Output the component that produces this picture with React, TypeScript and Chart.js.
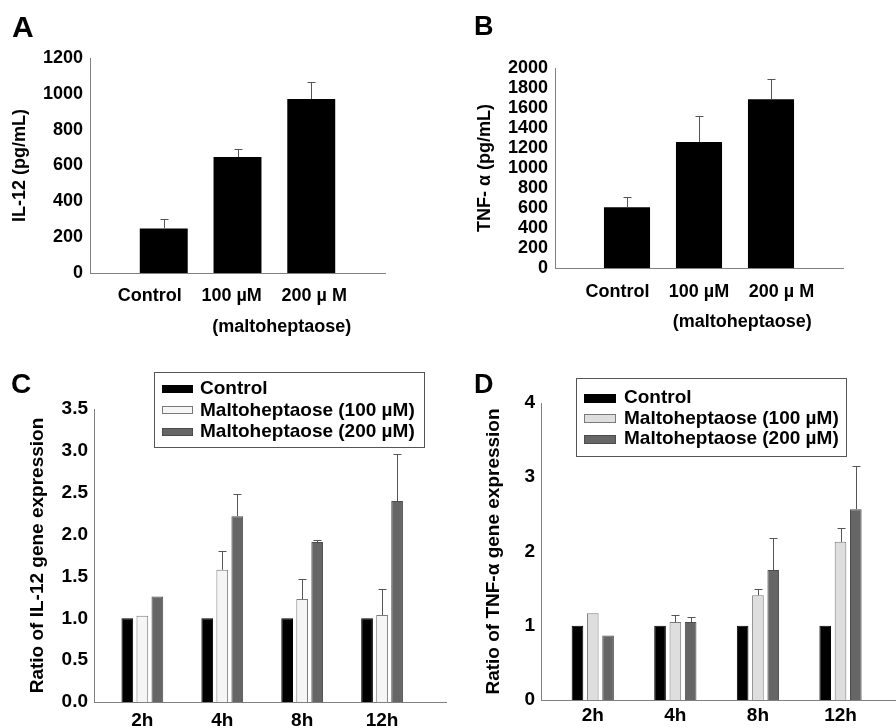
import React, { useEffect, useRef } from 'react';
import { Chart, registerables } from 'chart.js';

Chart.register(...registerables);

const FONT = '"Liberation Sans", Arial, Helvetica, sans-serif';
const AXIS_COLOR = '#808080';
const ERR_COLOR = '#555555';

// ---------- Panel A / B data ----------
const doseCategories = ['Control', '100 µM', '200 µ M'];
const doseGroupLabel = '(maltoheptaose)';
const il12Protein = [249, 647, 971];
const il12ProteinErr = [52, 43, 97];
const tnfProtein = [607, 1260, 1687];
const tnfProteinErr = [106, 260, 206];

// ---------- Panel C / D data ----------
const timeCategories = ['2h', '4h', '8h', '12h'];
const seriesNames = ['Control', 'Maltoheptaose (100 µM)', 'Maltoheptaose (200 µM)'];
const il12Control = [1, 1, 1, 1];
const il12Malto100 = [1.03, 1.58, 1.23, 1.04];
const il12Malto100Err = [0, 0.22, 0.24, 0.31];
const il12Malto200 = [1.26, 2.22, 1.91, 2.4];
const il12Malto200Err = [0, 0.27, 0.02, 0.56];
const tnfControl = [1, 1, 1, 1];
const tnfMalto100 = [1.17, 1.05, 1.41, 2.13];
const tnfMalto100Err = [0, 0.1, 0.09, 0.19];
const tnfMalto200 = [0.87, 1.05, 1.75, 2.57];
const tnfMalto200Err = [0, 0.07, 0.43, 0.58];

type Series = { name: string; values: number[]; errors?: number[]; fill: string; stroke: string; strokeWidth: number };
type Spec = {
  x: number; y: number; w: number; h: number;
  area: { left: number; top: number; right: number; bottom: number };
  letter: string; letterSize: number; letterX: number; letterY: number;
  categories: string[]; labelAt?: number[]; series: Series[];
  xMin: number; xMax: number; catPct: number; barPct: number;
  yMax: number; yStep: number; yFormat: (v: number) => string;
  yTitle: string; yTitlePad: number; yPad: number; xPad: number; fontSize: number;
  groupLabel?: { text: string; at: number; dy: number };
  legend?: { x: number; y: number; w: number; h: number; swX: number; swW: number; swH: number; textX: number; rows: number[] };
};

const errorBarPlugin = {
  id: 'errorBars',
  afterDatasetsDraw(chart: any) {
    const ctx = chart.ctx;
    const yScale = chart.scales.y;
    ctx.save();
    ctx.strokeStyle = ERR_COLOR;
    ctx.lineWidth = 1;
    chart.data.datasets.forEach((ds: any, i: number) => {
      const errs: number[] | undefined = ds.errors;
      if (!errs) return;
      const meta = chart.getDatasetMeta(i);
      meta.data.forEach((el: any, j: number) => {
        const e = errs[j];
        if (!e) return;
        const v = ds.data[j].y;
        const top = Math.round(yScale.getPixelForValue(v + e)) + 0.5;
        const x = Math.round(el.x) + 0.5;
        ctx.beginPath();
        ctx.moveTo(x, el.y);
        ctx.lineTo(x, top);
        ctx.moveTo(x - 4, top);
        ctx.lineTo(x + 4, top);
        ctx.stroke();
      });
    });
    ctx.restore();
  },
};

function makeAnnotationPlugin(s: Spec) {
  return {
    id: 'annotations',
    afterDraw(chart: any) {
      const ctx = chart.ctx;
      ctx.save();
      ctx.fillStyle = '#000';
      ctx.textBaseline = 'alphabetic';
      ctx.textAlign = 'left';
      ctx.font = `bold ${s.letterSize}px ${FONT}`;
      ctx.fillText(s.letter, s.letterX, s.letterY);
      if (s.groupLabel) {
        const xs = chart.scales.x;
        ctx.font = `bold ${s.fontSize}px ${FONT}`;
        ctx.textAlign = 'center';
        ctx.textBaseline = 'middle';
        ctx.fillText(s.groupLabel.text, xs.getPixelForValue(s.groupLabel.at), chart.chartArea.bottom + s.groupLabel.dy);
      }
      if (s.legend) {
        const L = s.legend;
        ctx.fillStyle = '#fff';
        ctx.fillRect(L.x, L.y, L.w, L.h);
        ctx.strokeStyle = '#555';
        ctx.lineWidth = 1;
        ctx.strokeRect(L.x + 0.5, L.y + 0.5, L.w, L.h);
        ctx.font = `bold ${s.fontSize}px ${FONT}`;
        ctx.textAlign = 'left';
        ctx.textBaseline = 'middle';
        chart.data.datasets.forEach((ds: any, i: number) => {
          const cy = L.rows[i];
          const top = Math.round(cy - L.swH / 2);
          ctx.fillStyle = ds.backgroundColor;
          ctx.fillRect(L.swX, top, L.swW, L.swH);
          ctx.strokeStyle = ds.borderColor;
          ctx.strokeRect(L.swX + 0.5, top + 0.5, L.swW - 1, L.swH - 1);
          ctx.fillStyle = '#000';
          ctx.fillText(ds.label, L.textX, cy);
        });
      }
      ctx.restore();
    },
  };
}

function buildConfig(s: Spec): any {
  const font = { family: FONT, size: s.fontSize, weight: 'bold' as const };
  const tickValues = s.labelAt ?? s.categories.map((_, i) => i + 1);
  return {
    type: 'bar',
    data: {
      datasets: s.series.map((se) => ({
        label: se.name,
        data: se.values.map((v, i) => ({ x: i + 1, y: v })),
        errors: se.errors,
        backgroundColor: se.fill,
        borderColor: se.stroke,
        borderWidth: se.strokeWidth,
        categoryPercentage: s.catPct,
        barPercentage: s.barPct,
      })),
    },
    options: {
      responsive: false,
      animation: false,
      events: [],
      layout: { padding: { left: 0, top: s.area.top, right: s.w - s.area.right, bottom: 0 } },
      plugins: { legend: { display: false }, tooltip: { enabled: false }, title: { display: false } },
      scales: {
        x: {
          type: 'linear',
          min: s.xMin,
          max: s.xMax,
          offset: false,
          afterBuildTicks: (sc: any) => {
            sc.ticks = tickValues.map((v) => ({ value: v }));
          },
          afterFit: (sc: any) => {
            sc.height = s.h - s.area.bottom;
          },
          grid: { display: false, drawTicks: false },
          border: { display: true, color: AXIS_COLOR, width: 1 },
          ticks: {
            autoSkip: false,
            maxRotation: 0,
            padding: s.xPad,
            color: '#000',
            font,
            callback: (_v: any, idx: number) => s.categories[idx] ?? '',
          },
        },
        y: {
          type: 'linear',
          min: 0,
          max: s.yMax,
          afterFit: (sc: any) => {
            sc.width = s.area.left;
          },
          grid: { display: false, drawTicks: false },
          border: { display: true, color: AXIS_COLOR, width: 1 },
          ticks: {
            stepSize: s.yStep,
            autoSkip: false,
            padding: s.yPad,
            color: '#000',
            font,
            callback: (v: any) => s.yFormat(Number(v)),
          },
          title: {
            display: true,
            text: s.yTitle,
            color: '#000',
            font,
            padding: { top: s.yTitlePad, bottom: 0 },
          },
        },
      },
    },
    plugins: [errorBarPlugin, makeAnnotationPlugin(s)],
  };
}

const specs: Spec[] = [
  {
    x: 0, y: 0, w: 448, h: 350,
    area: { left: 90, top: 58, right: 385, bottom: 273 },
    letter: 'A', letterSize: 30, letterX: 12, letterY: 37,
    categories: doseCategories, labelAt: [0.81, 1.92, 3.04],
    series: [{ name: 'IL-12', values: il12Protein, errors: il12ProteinErr, fill: '#000', stroke: '#000', strokeWidth: 0 }],
    xMin: 0, xMax: 4, catPct: 0.65, barPct: 1,
    yMax: 1200, yStep: 200, yFormat: (v) => String(Math.round(v)),
    yTitle: 'IL-12 (pg/mL)', yTitlePad: 9, yPad: 7, xPad: 12, fontSize: 18,
    groupLabel: { text: doseGroupLabel, at: 2.6, dy: 54 },
  },
  {
    x: 448, y: 0, w: 448, h: 350,
    area: { left: 107, top: 68, right: 395, bottom: 268 },
    letter: 'B', letterSize: 27, letterX: 26, letterY: 35,
    categories: doseCategories, labelAt: [0.868, 2.0, 3.146],
    series: [{ name: 'TNF-α', values: tnfProtein, errors: tnfProteinErr, fill: '#000', stroke: '#000', strokeWidth: 0 }],
    xMin: 0, xMax: 4, catPct: 0.64, barPct: 1,
    yMax: 2000, yStep: 200, yFormat: (v) => String(Math.round(v)),
    yTitle: 'TNF- α (pg/mL)', yTitlePad: 26, yPad: 7, xPad: 13, fontSize: 18,
    groupLabel: { text: doseGroupLabel, at: 2.6, dy: 54 },
  },
  {
    x: 0, y: 350, w: 448, h: 378,
    area: { left: 94, top: 59, right: 446, bottom: 352 },
    letter: 'C', letterSize: 28, letterX: 11, letterY: 43,
    categories: timeCategories,
    series: [
      { name: seriesNames[0], values: il12Control, fill: '#000000', stroke: '#000000', strokeWidth: 1 },
      { name: seriesNames[1], values: il12Malto100, errors: il12Malto100Err, fill: '#f5f5f5', stroke: '#7a7a7a', strokeWidth: 1 },
      { name: seriesNames[2], values: il12Malto200, errors: il12Malto200Err, fill: '#666666', stroke: '#4d4d4d', strokeWidth: 1 },
    ],
    xMin: 0.395, xMax: 4.8, catPct: 0.564, barPct: 0.78,
    yMax: 3.5, yStep: 0.5, yFormat: (v) => v.toFixed(1),
    yTitle: 'Ratio of IL-12 gene expression', yTitlePad: 26, yPad: 6, xPad: 7, fontSize: 19,
    legend: { x: 154, y: 22, w: 270, h: 75, swX: 162, swW: 31, swH: 8, textX: 200, rows: [38.8, 60.3, 82] },
  },
  {
    x: 448, y: 350, w: 448, h: 378,
    area: { left: 93, top: 53, right: 448, bottom: 350 },
    letter: 'D', letterSize: 27, letterX: 26, letterY: 43,
    categories: timeCategories,
    series: [
      { name: seriesNames[0], values: tnfControl, fill: '#000000', stroke: '#000000', strokeWidth: 1 },
      { name: seriesNames[1], values: tnfMalto100, errors: tnfMalto100Err, fill: '#dedede', stroke: '#7a7a7a', strokeWidth: 1 },
      { name: seriesNames[2], values: tnfMalto200, errors: tnfMalto200Err, fill: '#666666', stroke: '#4d4d4d', strokeWidth: 1 },
    ],
    xMin: 0.373, xMax: 4.672, catPct: 0.556, barPct: 0.76,
    yMax: 4, yStep: 1, yFormat: (v) => String(Math.round(v)),
    yTitle: 'Ratio of TNF-α gene expression', yTitlePad: 34, yPad: 6, xPad: 4, fontSize: 19,
    legend: { x: 128, y: 28, w: 270, h: 78, swX: 136, swW: 32, swH: 9, textX: 176, rows: [48, 68.5, 89] },
  },
];

function Panel({ spec }: { spec: Spec }) {
  const ref = useRef<HTMLCanvasElement | null>(null);
  useEffect(() => {
    if (!ref.current) return;
    const chart = new Chart(ref.current, buildConfig(spec));
    return () => chart.destroy();
  }, [spec]);
  return (
    <canvas
      ref={ref}
      width={spec.w}
      height={spec.h}
      style={{ position: 'absolute', left: spec.x, top: spec.y, width: spec.w, height: spec.h }}
    />
  );
}

export default function App() {
  return (
    <div style={{ position: 'absolute', left: 0, top: 0, width: 896, height: 728, background: '#fff', overflow: 'hidden' }}>
      {specs.map((s) => (
        <Panel key={s.letter} spec={s} />
      ))}
    </div>
  );
}
